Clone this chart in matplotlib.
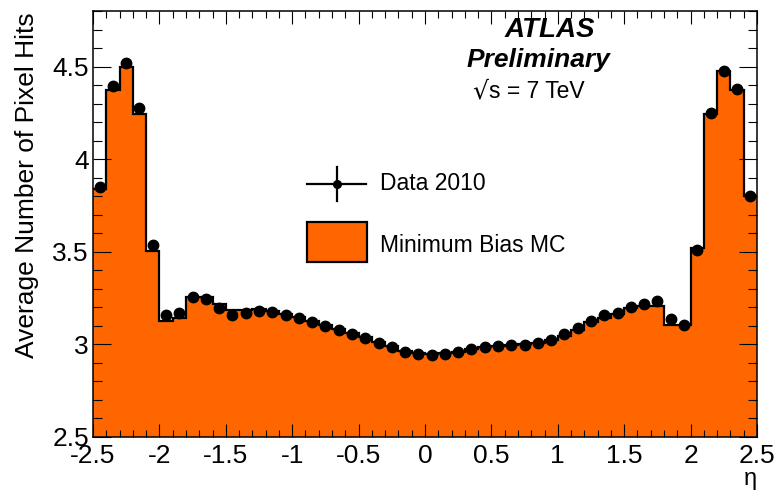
import numpy as np
import matplotlib
matplotlib.use("Agg")
import matplotlib.pyplot as plt
from matplotlib.ticker import MultipleLocator, FormatStrFormatter

plt.rcParams['font.family'] = ['Liberation Sans', 'DejaVu Sans']

# bin edges in eta (50 bins of 0.1)
eta_edges = np.linspace(-2.5, 2.5, 51)
eta_centers = 0.5 * (eta_edges[:-1] + eta_edges[1:])

# Data 2010 (points)
data_hits = [3.848, 4.394, 4.520, 4.277, 3.538, 3.156, 3.169, 3.258, 3.244, 3.196,
             3.159, 3.167, 3.179, 3.176, 3.161, 3.143, 3.122, 3.100, 3.077, 3.057,
             3.035, 3.010, 2.985, 2.961, 2.947, 2.945, 2.950, 2.959, 2.976, 2.986,
             2.992, 2.997, 2.999, 3.010, 3.026, 3.055, 3.087, 3.127, 3.158, 3.170,
             3.204, 3.219, 3.232, 3.136, 3.105, 3.507, 4.250, 4.478, 4.379, 3.799]

# Minimum Bias MC (histogram)
mc_hits = [3.840, 4.376, 4.495, 4.244, 3.505, 3.125, 3.145, 3.255, 3.255, 3.217,
           3.183, 3.186, 3.190, 3.180, 3.165, 3.147, 3.127, 3.104, 3.082, 3.062,
           3.040, 3.015, 2.990, 2.966, 2.952, 2.948, 2.952, 2.961, 2.975, 2.985,
           2.992, 2.996, 3.000, 3.008, 3.022, 3.048, 3.078, 3.120, 3.140, 3.165,
           3.196, 3.208, 3.208, 3.107, 3.107, 3.522, 4.244, 4.477, 4.376, 3.800]

orange = '#ff6600'

fig = plt.figure(figsize=(7.77, 4.93), dpi=100)
ax = fig.add_axes([93/777, 56/493, 664/777, 426/493])

# MC histogram: filled + outline
ax.stairs(mc_hits, eta_edges, fill=True, baseline=0, color=orange, lw=0)
ax.stairs(mc_hits, eta_edges, baseline=None, color='black', lw=1.6)

# data points
ax.plot(eta_centers, data_hits, 'o', color='black', ms=7.5, zorder=5, clip_on=False)

ax.set_xlim(-2.5, 2.5)
ax.set_ylim(2.5, 4.8)

ax.xaxis.set_major_locator(MultipleLocator(0.5))
ax.xaxis.set_minor_locator(MultipleLocator(0.1))
ax.yaxis.set_major_locator(MultipleLocator(0.5))
ax.yaxis.set_minor_locator(MultipleLocator(0.1))
ax.xaxis.set_major_formatter(FormatStrFormatter('%g'))
ax.yaxis.set_major_formatter(FormatStrFormatter('%g'))

ax.tick_params(which='both', direction='in', top=True, right=True, labelsize=19, width=0.8)
ax.tick_params(axis='x', which='major', length=9.5, pad=5)
ax.tick_params(axis='x', which='minor', length=4.7)
ax.tick_params(axis='y', which='major', length=13, pad=3)
ax.tick_params(axis='y', which='minor', length=6.5)
for s in ax.spines.values():
    s.set_linewidth(1.1)

ax.set_xlabel('η', fontsize=17, loc='right', labelpad=0)
fig.text(27/777, 1 - 12/493, 'Average Number of Pixel Hits', rotation=90,
         ha='center', va='top', fontsize=19)

# legend drawn by hand (ROOT style)
def axx(px):
    return (px - 93) / 664

def axy(py):
    return (437 - py) / 426

tr = ax.transAxes
ax.plot([axx(307), axx(366)], [axy(184), axy(184)], color='black', lw=1.6, transform=tr)
ax.plot([axx(337), axx(337)], [axy(167), axy(201)], color='black', lw=1.6, transform=tr)
ax.plot([axx(337)], [axy(184)], 'o', color='black', ms=5.5, transform=tr)
ax.add_patch(plt.Rectangle((axx(307), axy(262)), axx(367) - axx(307), axy(222) - axy(262),
                           facecolor=orange, edgecolor='black', lw=1.6, transform=tr))
ax.text(axx(380), axy(184), 'Data 2010', fontsize=16.5, va='center', ha='left', transform=tr)
ax.text(axx(380), axy(245), 'Minimum Bias MC', fontsize=16.5, va='center', ha='left', transform=tr)

# ATLAS label
ax.text(axx(550), axy(30), 'ATLAS', fontsize=20, fontweight='bold', fontstyle='italic',
        ha='center', va='center', transform=tr)
ax.text(axx(538), axy(60), 'Preliminary', fontsize=19, fontweight='bold', fontstyle='italic',
        ha='center', va='center', transform=tr)
ax.text(axx(488), axy(98), '√', fontsize=18, family='DejaVu Sans',
        ha='right', va='baseline', transform=tr)
ax.text(axx(489), axy(98), 's = 7 TeV', fontsize=16.5,
        ha='left', va='baseline', transform=tr)

fig.savefig('out.png', dpi=100)
